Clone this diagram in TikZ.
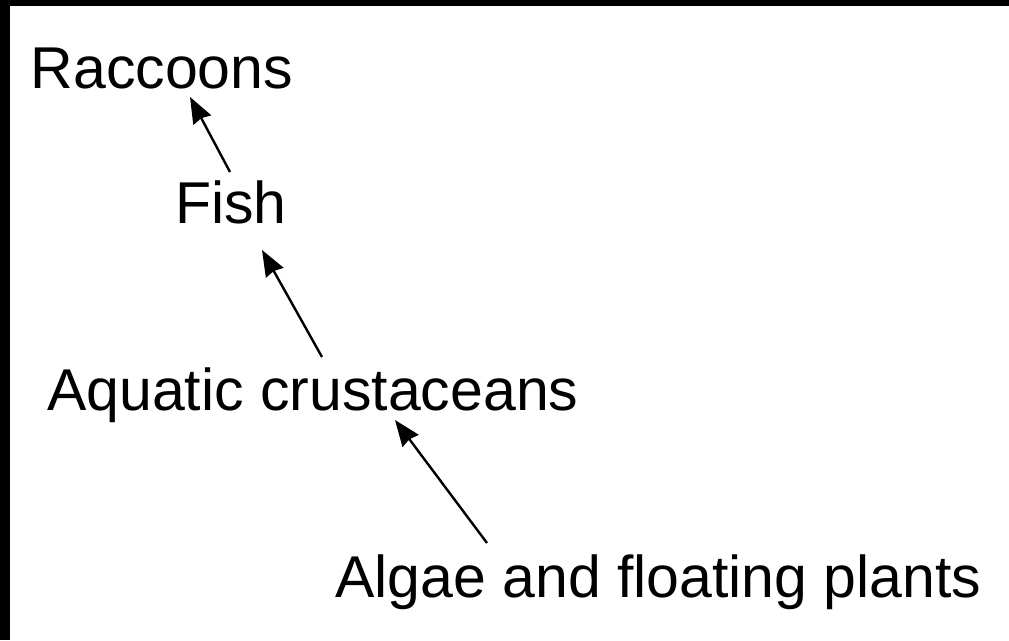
\documentclass[tikz,border=0pt]{standalone}
\usepackage{fontspec}
\setmainfont{Liberation Sans}
\usetikzlibrary{arrows.meta}
\begin{document}
\begin{tikzpicture}[x=1pt,y=1pt,
  lbl/.style={anchor=base west,inner sep=0pt,font=\fontsize{59}{70}\selectfont},
  arr/.style={line width=2.4pt,-{Stealth[length=26pt,width=20pt,inset=2pt]}}]
\useasboundingbox (0,0) rectangle (1009,-640);
\fill[white] (0,0) rectangle (1009,-640);
\fill[black] (0,0) rectangle (1009,-6);
\fill[black] (0,0) rectangle (10,-640);
\node[lbl] (rac) at (30.5,-88) {Raccoons};
\node[lbl] (fish) at (175,-223) {Fish};
\node[lbl] (crus) at (47,-410) {Aquatic crustaceans};
\node[lbl] (alg) at (335,-597) {Algae and floating plants};
\draw[arr] ([shift={(55,51)}]fish.base west) -- ([shift={(159.5,-9)}]rac.base west);
\draw[arr] ([shift={(275,53)}]crus.base west) -- ([shift={(87,-27)}]fish.base west);
\draw[arr] ([shift={(152,54)}]alg.base west) -- ([shift={(348,-10)}]crus.base west);
\end{tikzpicture}
\end{document}
